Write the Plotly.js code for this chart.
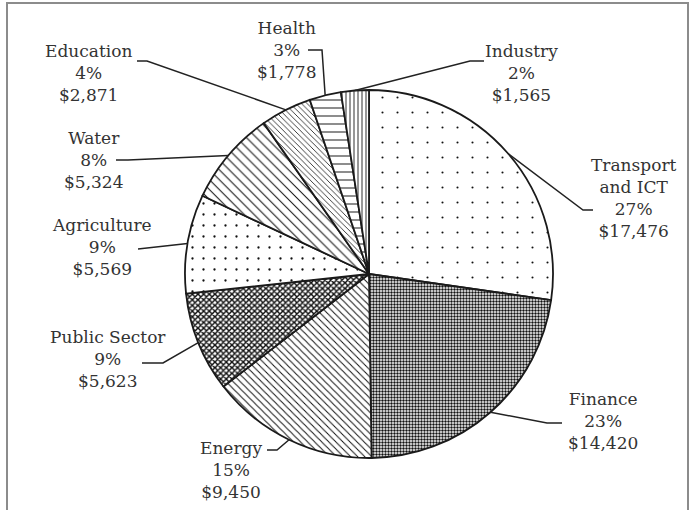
<!DOCTYPE html>
<html>
<head>
<meta charset="utf-8">
<script src="https://cdn.plot.ly/plotly-3.0.1.min.js"></script>
<style>
html,body{margin:0;padding:0;background:#fff;}
#chart{width:694px;height:510px;}
</style>
</head>
<body>
<div id="chart"></div>
<script>
// ---- data ----
const categories = ['Transport and ICT','Finance','Energy','Public Sector','Agriculture','Water','Education','Health','Industry'];
const categoryLines = ['Transport<br>and ICT','Finance','Energy','Public Sector','Agriculture','Water','Education','Health','Industry'];
const amounts = [17476,14420,9450,5623,5569,5324,2871,1778,1565];

// ---- styling / layout (not data) ----
const patternShapes = ['.', '.', '\\', 'x', '.', '\\', '\\', '-', '|'];
const patternSizes  = [15, 3, 5, 4, 11, 7, 4, 8, 4];
const patternSolid  = [0.015, 0.5, 0.2, 0.6, 0.035, 0.15, 0.2, 0.12, 0.22];
// label block centers (px) and leader bend points (px), per slice
const labelCenters = [[634,198],[603,421],[231,470],[108,359],[102,247],[94,160],[88,73],[286,50],[521,73]];
const leaderBends = [
  [[583,210],[593,210]],
  [[547,423],[562,423]],
  [[277,450],[267,450]],
  [[163,363],[142,363]],
  [[138,249]],
  [[128,160],[116,160]],
  [[147,61],[137,61]],
  [[322,50],[308,50]],
  [[470,61],[484,61]]
];

const W = 694, H = 510;
const CX = 369, CY = 274, R = 184;
const px = (x) => x / W;
const py = (y) => 1 - y / H;

const total = amounts.reduce((a,b)=>a+b,0);

const trace = {
  type: 'pie',
  labels: categories,
  values: amounts,
  sort: false,
  direction: 'clockwise',
  rotation: 0,
  textinfo: 'none',
  hoverinfo: 'skip',
  showlegend: false,
  domain: {x: [px(CX - R), px(CX + R)], y: [py(CY + R), py(CY - R)]},
  marker: {
    colors: categories.map(()=> '#ffffff'),
    line: {color: '#1a1a1a', width: 1.8},
    pattern: {
      shape: patternShapes,
      size: patternSizes,
      solidity: patternSolid,
      fgcolor: '#111111',
      bgcolor: '#ffffff',
      fillmode: 'replace'
    }
  }
};

const annotations = [];
const shapes = [];
let cum = 0;
amounts.forEach((v, i) => {
  const mid = (cum + v / 2) / total;
  cum += v;
  const ang = mid * 2 * Math.PI;
  const ex = CX + R * Math.sin(ang);
  const ey = CY - R * Math.cos(ang);
  const pts = [[ex, ey]].concat(leaderBends[i]);
  let d = '';
  pts.forEach((p, k) => { d += (k ? ' L ' : 'M ') + px(p[0]).toFixed(5) + ',' + py(p[1]).toFixed(5); });
  shapes.push({type:'path', xref:'paper', yref:'paper', path: d, line:{color:'#222', width:1.5}});
  const pct = Math.round(v / total * 100) + '%';
  const money = '$' + v.toLocaleString('en-US');
  annotations.push({
    xref:'paper', yref:'paper',
    x: px(labelCenters[i][0]), y: py(labelCenters[i][1]),
    xanchor:'center', yanchor:'middle', align:'center',
    showarrow:false,
    text: categoryLines[i] + '<br>' + pct + '<br>' + money,
    font:{family:'DejaVu Serif, serif', size:17, color:'#333333'}
  });
});

// outer frame
shapes.push({type:'rect', xref:'paper', yref:'paper', x0: px(7), x1: px(688), y0: py(520), y1: py(3),
  line:{color:'#8c8c8c', width:2}, fillcolor:'rgba(0,0,0,0)'});

const layout = {
  width: W, height: H,
  margin: {l:0, r:0, t:0, b:0, pad:0},
  paper_bgcolor: '#ffffff',
  plot_bgcolor: '#ffffff',
  showlegend: false,
  annotations: annotations,
  shapes: shapes
};

Plotly.newPlot('chart', [trace], layout, {staticPlot:true, displayModeBar:false});
</script>
</body>
</html>
